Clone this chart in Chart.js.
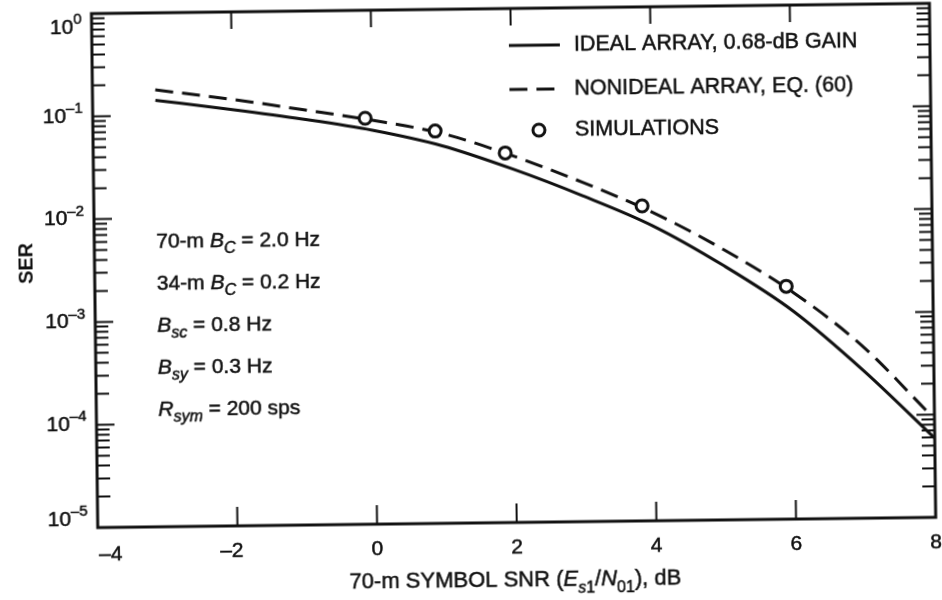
<!DOCTYPE html>
<html>
<head>
<meta charset="utf-8">
<script src="https://cdn.jsdelivr.net/npm/chart.js@4.4.0/dist/chart.umd.min.js"></script>
<style>
  html, body { margin: 0; padding: 0; background: #fff; }
  /* the scanned figure sits slightly rotated on the page */
  #wrap { width: 942px; height: 600px; transform: rotate(-0.7deg); transform-origin: 50% 50%; }
</style>
</head>
<body>
<div id="wrap"><canvas id="serChart" width="942" height="600"></canvas></div>
<script>
// symbol SNR (dB) vs SER
const snrIdeal = [-3.1, -2, -1, 0, 1, 2, 3, 4, 5, 6, 7, 8];
const serIdeal = [0.141, 0.112, 0.089, 0.068, 0.047, 0.0275, 0.0148, 0.0074, 0.0030, 0.00105, 0.00027, 0.000059];

const snrNonideal = [-3.1, -2, -1, 0, 1, 2, 3, 4, 5, 6, 7, 7.9];
const serNonideal = [0.178, 0.141, 0.110, 0.085, 0.062, 0.037, 0.020, 0.0100, 0.0043, 0.0016, 0.00046, 0.000107];

const snrSim = [-0.1, 0.9, 1.9, 3.85, 5.9];
const serSim = [0.089, 0.0656, 0.0394, 0.0116, 0.00184];

const xTickValues = [-4, -2, 0, 2, 4, 6, 8];
const xTickLabels = ['–4', '–2', '0', '2', '4', '6', '8'];
const yDecadeValues = [1, 1e-1, 1e-2, 1e-3, 1e-4, 1e-5];
const yDecadeExponents = ['0', '–1', '–2', '–3', '–4', '–5'];
const yMinorSteps = [2, 3, 4, 5, 6, 7, 8, 9];

const legendLabels = ['IDEAL ARRAY, 0.68-dB GAIN', 'NONIDEAL ARRAY, EQ. (60)', 'SIMULATIONS'];

// parameter block, [text, style]  style: '' normal, 'i' italic, 'isub' italic subscript
const paramLines = [
    [['70-m ', ''], ['B', 'i'], ['C', 'isub'], [' = 2.0 Hz', '']],
    [['34-m ', ''], ['B', 'i'], ['C', 'isub'], [' = 0.2 Hz', '']],
    [['B', 'i'], ['sc', 'isub'], [' = 0.8 Hz', '']],
    [['B', 'i'], ['sy', 'isub'], [' = 0.3 Hz', '']],
    [['R', 'i'], ['sym', 'isub'], [' = 200 sps', '']]
];
const xTitle = [['70-m SYMBOL SNR (', ''], ['E', 'i'], ['s', 'isub'], ['1', 'sub'], ['/', ''], ['N', 'i'], ['01', 'sub'], ['), dB', '']];

const FONT = '"Liberation Sans", Arial, Helvetica, sans-serif';
const INK = '#111';

const fontFor = (style, size) => {
    const italic = style.includes('i') ? 'italic ' : '';
    const s = style.includes('sub') ? Math.round(size * 0.74) : size;
    return `${italic}${s}px ${FONT}`;
};

// fill plus a hairline stroke, the scan's lettering is heavy
const ink = (c, t, x, y) => {
    c.fillText(t, x, y);
    c.strokeText(t, x, y);
};

const drawRich = (c, x, y, parts, size, align) => {
    const widths = parts.map(p => { c.font = fontFor(p[1], size); return c.measureText(p[0]).width; });
    const total = widths.reduce((a, b) => a + b, 0);
    let cx = align === 'center' ? x - total / 2 : x;
    c.textAlign = 'left';
    c.textBaseline = 'middle';
    parts.forEach((p, i) => {
        c.font = fontFor(p[1], size);
        const dy = p[1].includes('sub') ? size * 0.38 : 0;
        ink(c, p[0], cx, y + dy);
        cx += widths[i];
    });
};

const paperAxes = {
    id: 'paperAxes',
    afterDatasetsDraw(chart) {
        const c = chart.ctx;
        const { left, right, top, bottom } = chart.chartArea;
        const xs = chart.scales.x;
        const ys = chart.scales.y;
        c.save();
        c.strokeStyle = INK;
        c.fillStyle = INK;

        // frame
        c.lineWidth = 3;
        c.strokeRect(left, top, right - left, bottom - top);

        // x ticks, pointing inward on top and bottom
        c.lineWidth = 2;
        xTickValues.forEach(v => {
            if (v === xs.min || v === xs.max) return;
            const px = xs.getPixelForValue(v);
            c.beginPath();
            c.moveTo(px, bottom); c.lineTo(px, bottom - 19);
            c.moveTo(px, top); c.lineTo(px, top + 17);
            c.stroke();
        });

        // y ticks, left and right
        const yTick = (py, len) => {
            c.beginPath();
            c.moveTo(left, py); c.lineTo(left + len, py);
            c.moveTo(right, py); c.lineTo(right - len, py);
            c.stroke();
        };
        yDecadeValues.forEach(d => {
            yTick(ys.getPixelForValue(d), 18);
            if (d < 1) yMinorSteps.forEach(m => yTick(ys.getPixelForValue(d * m), 13));
        });

        c.lineWidth = 0.5;

        // x tick labels: digit centred on tick, minus hangs left
        // (first one starts at the axis so it clears the 10^-5 label)
        c.font = `21px ${FONT}`;
        c.textBaseline = 'middle';
        xTickValues.forEach((v, i) => {
            const px = xs.getPixelForValue(v);
            const lab = xTickLabels[i];
            if (v === xs.min) {
                c.textAlign = 'left';
                ink(c, lab, px + 1, bottom + 27);
                return;
            }
            const digit = lab.replace('–', '');
            const w = c.measureText(digit).width;
            c.textAlign = 'center';
            ink(c, digit, px, bottom + 25);
            if (lab.startsWith('–')) {
                c.textAlign = 'right';
                ink(c, '–', px - w / 2, bottom + 25);
            }
        });

        // y tick labels 10^n
        yDecadeValues.forEach((d, i) => {
            let py = ys.getPixelForValue(d);
            py = Math.min(Math.max(py, top + 14), bottom - 8);
            c.font = `15px ${FONT}`;
            c.textAlign = 'right';
            const ew = c.measureText(yDecadeExponents[i]).width;
            ink(c, yDecadeExponents[i], left - 10, py - 8);
            c.font = `21px ${FONT}`;
            ink(c, '10', left - 10 - ew, py);
        });

        // axis titles
        drawRich(c, (left + right) / 2 - 2, bottom + 58, xTitle, 22, 'center');
        c.save();
        c.translate(27, 258);
        c.rotate(-Math.PI / 2);
        c.font = `bold 20px ${FONT}`;
        c.textAlign = 'center';
        c.textBaseline = 'middle';
        c.fillText('SER', 0, 0);
        c.restore();

        // legend
        const ds = chart.data.datasets;
        const legendRows = [46, 90, 131];
        [ds[1], ds[2], ds[0]].forEach((d, i) => {
            const y = legendRows[i];
            if (d.showLine === false) {
                c.beginPath();
                c.lineWidth = d.pointBorderWidth;
                c.arc(541, y, d.pointRadius, 0, Math.PI * 2);
                c.fillStyle = '#fff';
                c.fill();
                c.stroke();
                c.fillStyle = INK;
            } else {
                c.beginPath();
                c.lineWidth = d.borderWidth;
                c.setLineDash(d.borderDash || []);
                c.moveTo(512, y); c.lineTo(563, y);
                c.stroke();
                c.setLineDash([]);
            }
            c.lineWidth = 0.5;
            c.font = `21.5px ${FONT}`;
            c.textAlign = 'left';
            c.textBaseline = 'middle';
            ink(c, legendLabels[i], 577, y);
        });

        // parameter block
        paramLines.forEach((line, i) => drawRich(c, 157, 238 + i * 42, line, 21, 'left'));

        c.restore();
    }
};

const toPoints = (xs, ys) => xs.map((x, i) => ({ x: x, y: ys[i] }));

new Chart(document.getElementById('serChart'), {
    type: 'line',
    data: {
        datasets: [
            {
                label: 'SIMULATIONS',
                data: toPoints(snrSim, serSim),
                showLine: false,
                pointStyle: 'circle',
                pointRadius: 6,
                pointBorderWidth: 3,
                pointBorderColor: INK,
                pointBackgroundColor: '#fff',
                order: 0
            },
            {
                label: 'IDEAL ARRAY, 0.68-dB GAIN',
                data: toPoints(snrIdeal, serIdeal),
                borderColor: INK,
                borderWidth: 3,
                pointRadius: 0,
                cubicInterpolationMode: 'monotone',
                order: 1
            },
            {
                label: 'NONIDEAL ARRAY, EQ. (60)',
                data: toPoints(snrNonideal, serNonideal),
                borderColor: INK,
                borderWidth: 3,
                borderDash: [18, 9],
                pointRadius: 0,
                cubicInterpolationMode: 'monotone',
                order: 2
            }
        ]
    },
    options: {
        responsive: false,
        animation: false,
        devicePixelRatio: 1,
        layout: { padding: { left: 95, right: 7, top: 8, bottom: 77 } },
        scales: {
            x: { type: 'linear', min: -4, max: 8, display: false },
            y: { type: 'logarithmic', min: 1e-5, max: 1, display: false }
        },
        plugins: {
            legend: { display: false },
            tooltip: { enabled: false }
        }
    },
    plugins: [paperAxes]
});
</script>
</body>
</html>
